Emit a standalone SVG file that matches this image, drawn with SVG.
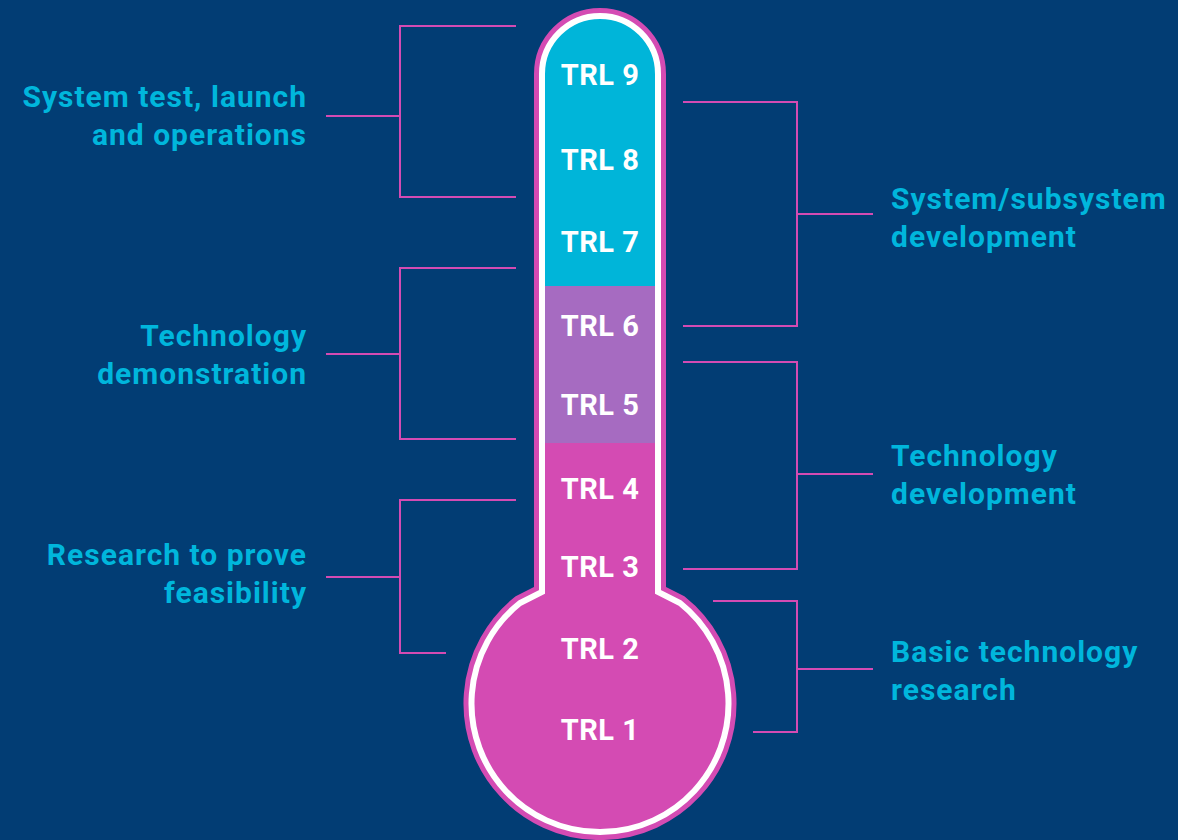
<svg xmlns="http://www.w3.org/2000/svg" width="1178" height="840" viewBox="0 0 1178 840">
<defs>
<style>
.trl{font-family:Roboto,"Liberation Sans",sans-serif;font-weight:700;font-size:29px;letter-spacing:0.5px;fill:#ffffff;text-anchor:middle}
.lbl{font-family:Roboto,"Liberation Sans",sans-serif;font-weight:700;font-size:30px;letter-spacing:1px;fill:#00b6dc}
.l{text-anchor:end}
.c{fill:none;stroke:#d44bb3;stroke-width:2}
</style>
<path id="therm" d="M 542,592 L 542,74 A 58 58 0 0 1 658,74 L 658,592 L 680,603 A 128.5 128.5 0 1 1 520,603 Z"/>
<clipPath id="clip"><use href="#therm"/></clipPath>
</defs>
<rect width="1178" height="840" fill="#023d74"/>
<g id="connectors">
<path class="c" d="M516,26 H400 V197 H516 M326,116 H400"/>
<path class="c" d="M516,268 H400 V439 H516 M326,354 H400"/>
<path class="c" d="M516,500 H400 V653 H446 M326,577 H400"/>
<path class="c" d="M683,102 H797 V326 H683 M797,214 H873"/>
<path class="c" d="M683,362 H797 V569 H683 M797,474 H873"/>
<path class="c" d="M713,601 H797 V732 H753 M797,669 H873"/>
</g>
<g id="thermometer">
<use href="#therm" fill="none" stroke="#d44bb3" stroke-width="16" stroke-linejoin="miter"/>
<g clip-path="url(#clip)">
<rect x="400" y="0" width="400" height="286" fill="#00b5d9"/>
<rect x="400" y="286" width="400" height="157" fill="#a66bc1"/>
<rect x="400" y="443" width="400" height="400" fill="#d44bb3"/>
</g>
<use href="#therm" fill="none" stroke="#ffffff" stroke-width="6" stroke-linejoin="miter"/>
</g>
<g id="trl9"><text class="trl" x="600" y="85">TRL 9</text></g>
<g id="trl8"><text class="trl" x="600" y="170">TRL 8</text></g>
<g id="trl7"><text class="trl" x="600" y="252">TRL 7</text></g>
<g id="trl6"><text class="trl" x="600" y="336">TRL 6</text></g>
<g id="trl5"><text class="trl" x="600" y="415">TRL 5</text></g>
<g id="trl4"><text class="trl" x="600" y="499">TRL 4</text></g>
<g id="trl3"><text class="trl" x="600" y="577">TRL 3</text></g>
<g id="trl2"><text class="trl" x="600" y="659">TRL 2</text></g>
<g id="trl1"><text class="trl" x="600" y="740">TRL 1</text></g>
<g id="label-system-test"><text class="lbl l" x="307" y="107">System test, launch</text><text class="lbl l" x="307" y="145">and operations</text></g>
<g id="label-tech-demo"><text class="lbl l" x="307" y="346">Technology</text><text class="lbl l" x="307" y="384">demonstration</text></g>
<g id="label-research"><text class="lbl l" x="307" y="565">Research to prove</text><text class="lbl l" x="307" y="603">feasibility</text></g>
<g id="label-system-dev"><text class="lbl" x="891" y="209">System/subsystem</text><text class="lbl" x="891" y="247">development</text></g>
<g id="label-tech-dev"><text class="lbl" x="891" y="466">Technology</text><text class="lbl" x="891" y="504">development</text></g>
<g id="label-basic"><text class="lbl" x="891" y="662">Basic technology</text><text class="lbl" x="891" y="700">research</text></g>
</svg>
